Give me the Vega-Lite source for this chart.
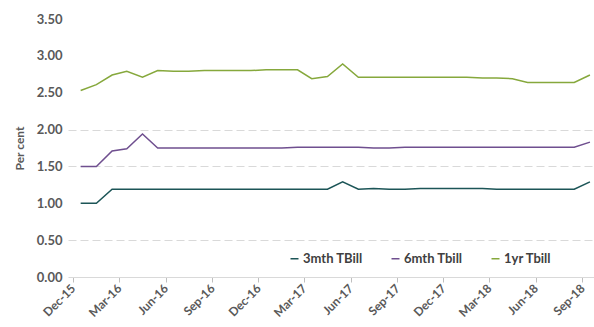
{
  "$schema": "https://vega.github.io/schema/vega-lite/v6.json",
  "autosize": "none",
  "width": 526,
  "height": 258,
  "padding": {"left": 68, "top": 19, "right": 0, "bottom": 50},
  "background": "white",
  "config": {
    "view": {"stroke": null},
    "font": "Lato"
  },
  "datasets": {
    "rates": [
      {"month": "2015-12-01", "series": "3mth TBill", "value": 1.00},
      {"month": "2016-01-01", "series": "3mth TBill", "value": 1.00},
      {"month": "2016-02-01", "series": "3mth TBill", "value": 1.19},
      {"month": "2016-03-01", "series": "3mth TBill", "value": 1.19},
      {"month": "2016-04-01", "series": "3mth TBill", "value": 1.19},
      {"month": "2016-05-01", "series": "3mth TBill", "value": 1.19},
      {"month": "2016-06-01", "series": "3mth TBill", "value": 1.19},
      {"month": "2016-07-01", "series": "3mth TBill", "value": 1.19},
      {"month": "2016-08-01", "series": "3mth TBill", "value": 1.19},
      {"month": "2016-09-01", "series": "3mth TBill", "value": 1.19},
      {"month": "2016-10-01", "series": "3mth TBill", "value": 1.19},
      {"month": "2016-11-01", "series": "3mth TBill", "value": 1.19},
      {"month": "2016-12-01", "series": "3mth TBill", "value": 1.19},
      {"month": "2017-01-01", "series": "3mth TBill", "value": 1.19},
      {"month": "2017-02-01", "series": "3mth TBill", "value": 1.19},
      {"month": "2017-03-01", "series": "3mth TBill", "value": 1.19},
      {"month": "2017-04-01", "series": "3mth TBill", "value": 1.19},
      {"month": "2017-05-01", "series": "3mth TBill", "value": 1.29},
      {"month": "2017-06-01", "series": "3mth TBill", "value": 1.19},
      {"month": "2017-07-01", "series": "3mth TBill", "value": 1.20},
      {"month": "2017-08-01", "series": "3mth TBill", "value": 1.19},
      {"month": "2017-09-01", "series": "3mth TBill", "value": 1.19},
      {"month": "2017-10-01", "series": "3mth TBill", "value": 1.20},
      {"month": "2017-11-01", "series": "3mth TBill", "value": 1.20},
      {"month": "2017-12-01", "series": "3mth TBill", "value": 1.20},
      {"month": "2018-01-01", "series": "3mth TBill", "value": 1.20},
      {"month": "2018-02-01", "series": "3mth TBill", "value": 1.20},
      {"month": "2018-03-01", "series": "3mth TBill", "value": 1.19},
      {"month": "2018-04-01", "series": "3mth TBill", "value": 1.19},
      {"month": "2018-05-01", "series": "3mth TBill", "value": 1.19},
      {"month": "2018-06-01", "series": "3mth TBill", "value": 1.19},
      {"month": "2018-07-01", "series": "3mth TBill", "value": 1.19},
      {"month": "2018-08-01", "series": "3mth TBill", "value": 1.19},
      {"month": "2018-09-01", "series": "3mth TBill", "value": 1.29},
      {"month": "2015-12-01", "series": "6mth Tbill", "value": 1.50},
      {"month": "2016-01-01", "series": "6mth Tbill", "value": 1.50},
      {"month": "2016-02-01", "series": "6mth Tbill", "value": 1.71},
      {"month": "2016-03-01", "series": "6mth Tbill", "value": 1.74},
      {"month": "2016-04-01", "series": "6mth Tbill", "value": 1.94},
      {"month": "2016-05-01", "series": "6mth Tbill", "value": 1.75},
      {"month": "2016-06-01", "series": "6mth Tbill", "value": 1.75},
      {"month": "2016-07-01", "series": "6mth Tbill", "value": 1.75},
      {"month": "2016-08-01", "series": "6mth Tbill", "value": 1.75},
      {"month": "2016-09-01", "series": "6mth Tbill", "value": 1.75},
      {"month": "2016-10-01", "series": "6mth Tbill", "value": 1.75},
      {"month": "2016-11-01", "series": "6mth Tbill", "value": 1.75},
      {"month": "2016-12-01", "series": "6mth Tbill", "value": 1.75},
      {"month": "2017-01-01", "series": "6mth Tbill", "value": 1.75},
      {"month": "2017-02-01", "series": "6mth Tbill", "value": 1.76},
      {"month": "2017-03-01", "series": "6mth Tbill", "value": 1.76},
      {"month": "2017-04-01", "series": "6mth Tbill", "value": 1.76},
      {"month": "2017-05-01", "series": "6mth Tbill", "value": 1.76},
      {"month": "2017-06-01", "series": "6mth Tbill", "value": 1.76},
      {"month": "2017-07-01", "series": "6mth Tbill", "value": 1.75},
      {"month": "2017-08-01", "series": "6mth Tbill", "value": 1.75},
      {"month": "2017-09-01", "series": "6mth Tbill", "value": 1.76},
      {"month": "2017-10-01", "series": "6mth Tbill", "value": 1.76},
      {"month": "2017-11-01", "series": "6mth Tbill", "value": 1.76},
      {"month": "2017-12-01", "series": "6mth Tbill", "value": 1.76},
      {"month": "2018-01-01", "series": "6mth Tbill", "value": 1.76},
      {"month": "2018-02-01", "series": "6mth Tbill", "value": 1.76},
      {"month": "2018-03-01", "series": "6mth Tbill", "value": 1.76},
      {"month": "2018-04-01", "series": "6mth Tbill", "value": 1.76},
      {"month": "2018-05-01", "series": "6mth Tbill", "value": 1.76},
      {"month": "2018-06-01", "series": "6mth Tbill", "value": 1.76},
      {"month": "2018-07-01", "series": "6mth Tbill", "value": 1.76},
      {"month": "2018-08-01", "series": "6mth Tbill", "value": 1.76},
      {"month": "2018-09-01", "series": "6mth Tbill", "value": 1.83},
      {"month": "2015-12-01", "series": "1yr Tbill", "value": 2.53},
      {"month": "2016-01-01", "series": "1yr Tbill", "value": 2.61},
      {"month": "2016-02-01", "series": "1yr Tbill", "value": 2.74},
      {"month": "2016-03-01", "series": "1yr Tbill", "value": 2.79},
      {"month": "2016-04-01", "series": "1yr Tbill", "value": 2.71},
      {"month": "2016-05-01", "series": "1yr Tbill", "value": 2.80},
      {"month": "2016-06-01", "series": "1yr Tbill", "value": 2.79},
      {"month": "2016-07-01", "series": "1yr Tbill", "value": 2.79},
      {"month": "2016-08-01", "series": "1yr Tbill", "value": 2.80},
      {"month": "2016-09-01", "series": "1yr Tbill", "value": 2.80},
      {"month": "2016-10-01", "series": "1yr Tbill", "value": 2.80},
      {"month": "2016-11-01", "series": "1yr Tbill", "value": 2.80},
      {"month": "2016-12-01", "series": "1yr Tbill", "value": 2.81},
      {"month": "2017-01-01", "series": "1yr Tbill", "value": 2.81},
      {"month": "2017-02-01", "series": "1yr Tbill", "value": 2.81},
      {"month": "2017-03-01", "series": "1yr Tbill", "value": 2.69},
      {"month": "2017-04-01", "series": "1yr Tbill", "value": 2.72},
      {"month": "2017-05-01", "series": "1yr Tbill", "value": 2.89},
      {"month": "2017-06-01", "series": "1yr Tbill", "value": 2.71},
      {"month": "2017-07-01", "series": "1yr Tbill", "value": 2.71},
      {"month": "2017-08-01", "series": "1yr Tbill", "value": 2.71},
      {"month": "2017-09-01", "series": "1yr Tbill", "value": 2.71},
      {"month": "2017-10-01", "series": "1yr Tbill", "value": 2.71},
      {"month": "2017-11-01", "series": "1yr Tbill", "value": 2.71},
      {"month": "2017-12-01", "series": "1yr Tbill", "value": 2.71},
      {"month": "2018-01-01", "series": "1yr Tbill", "value": 2.71},
      {"month": "2018-02-01", "series": "1yr Tbill", "value": 2.70},
      {"month": "2018-03-01", "series": "1yr Tbill", "value": 2.70},
      {"month": "2018-04-01", "series": "1yr Tbill", "value": 2.69},
      {"month": "2018-05-01", "series": "1yr Tbill", "value": 2.64},
      {"month": "2018-06-01", "series": "1yr Tbill", "value": 2.64},
      {"month": "2018-07-01", "series": "1yr Tbill", "value": 2.64},
      {"month": "2018-08-01", "series": "1yr Tbill", "value": 2.64},
      {"month": "2018-09-01", "series": "1yr Tbill", "value": 2.74}
    ]
  },
  "data": {"name": "rates"},
  "mark": {"type": "line", "strokeWidth": 1.5},
  "encoding": {
    "x": {
      "field": "month",
      "type": "temporal",
      "scale": {"domain": ["2015-11-06", "2018-09-09"]},
      "axis": {
        "title": null,
        "format": "%b-%y",
        "values": [
          {"year": 2015, "month": 12, "date": 1},
          {"year": 2016, "month": 3, "date": 1},
          {"year": 2016, "month": 6, "date": 1},
          {"year": 2016, "month": 9, "date": 1},
          {"year": 2016, "month": 12, "date": 1},
          {"year": 2017, "month": 3, "date": 1},
          {"year": 2017, "month": 6, "date": 1},
          {"year": 2017, "month": 9, "date": 1},
          {"year": 2017, "month": 12, "date": 1},
          {"year": 2018, "month": 3, "date": 1},
          {"year": 2018, "month": 6, "date": 1},
          {"year": 2018, "month": 9, "date": 1}
        ],
        "labelAngle": -45,
        "labelAlign": "right",
        "labelBaseline": "middle",
        "labelFont": "Lato",
        "labelFontWeight": "bold",
        "labelFontSize": 12,
        "labelColor": "#595959",
        "labelPadding": 4,
        "labelOverlap": false,
        "labelFlush": false,
        "grid": false,
        "domainColor": "#d9d9d9",
        "tickColor": "#bfbfbf",
        "tickSize": 5,
        "tickOffset": -7.7
      }
    },
    "y": {
      "field": "value",
      "type": "quantitative",
      "scale": {"domain": [0, 3.5]},
      "axis": {
        "title": "Per cent",
        "titleFont": "Lato",
        "titleFontSize": 12,
        "titleFontWeight": "bold",
        "titleColor": "#595959",
        "titlePadding": 10,
        "values": [0, 0.5, 1, 1.5, 2, 2.5, 3, 3.5],
        "format": ".2f",
        "labelFont": "Lato",
        "labelFontWeight": "bold",
        "labelFontSize": 13,
        "labelColor": "#595959",
        "labelPadding": 6,
        "domain": false,
        "ticks": false,
        "gridColor": "#d9d9d9",
        "gridDash": [8, 4],
        "gridWidth": 1,
        "gridOpacity": {
          "condition": {"test": "datum.value == 0.5 || datum.value == 1.5 || datum.value == 2", "value": 1},
          "value": 0
        }
      }
    },
    "color": {
      "field": "series",
      "type": "nominal",
      "scale": {
        "domain": ["3mth TBill", "6mth Tbill", "1yr Tbill"],
        "range": ["#1c5557", "#6f4f8f", "#86a83c"]
      },
      "legend": {
        "title": null,
        "orient": "none",
        "legendX": 220,
        "legendY": 233,
        "direction": "horizontal",
        "symbolType": "stroke",
        "symbolSize": 64,
        "symbolStrokeWidth": 1.5,
        "labelFont": "Lato",
        "labelFontWeight": "bold",
        "labelFontSize": 13,
        "labelColor": "#404040",
        "labelOffset": 2,
        "columnPadding": 25
      }
    }
  }
}
